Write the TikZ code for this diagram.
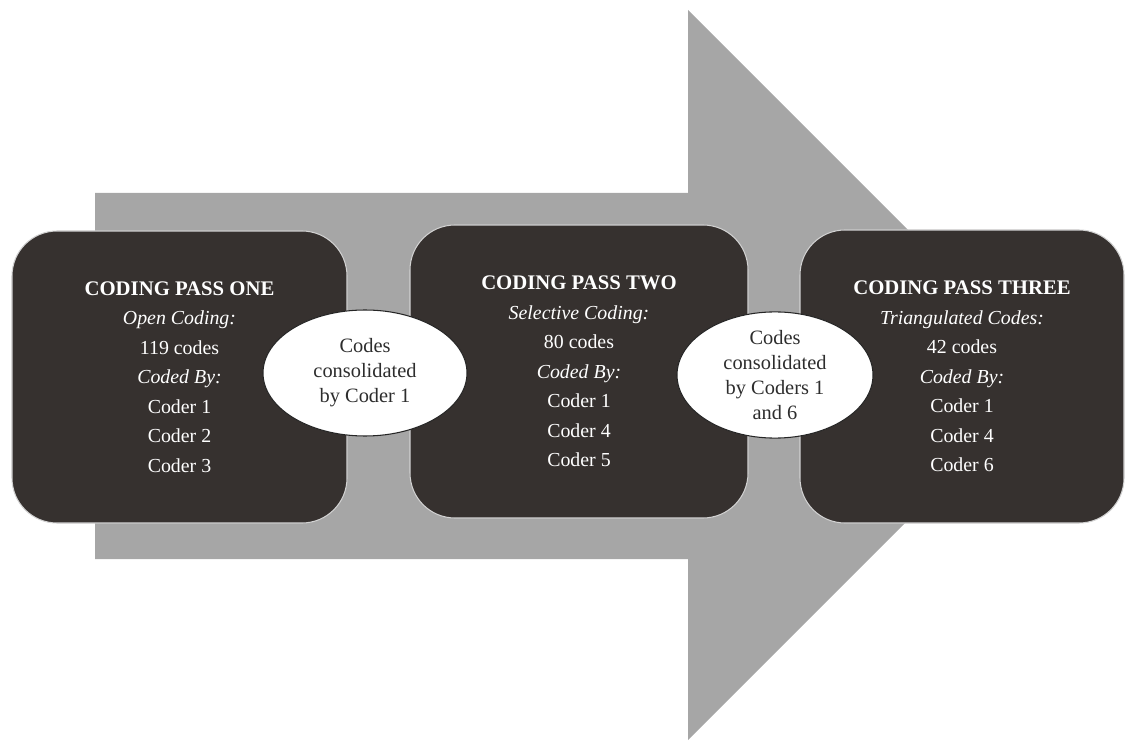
\documentclass[tikz,border=0pt]{standalone}
\usepackage{fontspec}
\setmainfont{Liberation Serif}
\usetikzlibrary{shapes.geometric}

\definecolor{arrowgray}{RGB}{166,166,166}
\definecolor{passdark}{RGB}{54,49,47}
\definecolor{bubbletext}{RGB}{45,45,45}

\newcommand{\passtitle}[1]{{\fontsize{11.8}{16.8}\selectfont\bfseries #1}}

\tikzset{
  passbox/.style={fill=passdark, draw=gray!35, line width=0.6pt,
    rounded corners=0.9cm, inner sep=0pt, align=center, text=white,
    font=\fontsize{11.3}{16.8}\selectfont},
  bubble/.style={ellipse, fill=white, draw=black!85, line width=0.6pt,
    inner sep=0pt, align=center, text=bubbletext,
    font=\fontsize{11.6}{14.2}\selectfont}
}

\begin{document}
\begin{tikzpicture}
        \useasboundingbox (0,0) rectangle (22.54,14.8);
        % big arrow behind
        \fill[arrowgray] (1.9,3.62) -- (1.9,10.94) -- (13.76,10.94) -- (13.76,14.6)
            -- (21.06,7.3) -- (13.76,0) -- (13.76,3.62) -- cycle;
        % the three passes
        \node [passbox, minimum width=6.7cm, minimum height=5.84cm] (one) at (3.59,7.26)
            {\passtitle{CODING PASS ONE}\\ \textit{Open Coding:}\\ 119 codes\\
             \textit{Coded By:}\\ Coder 1\\ Coder 2\\ Coder 3};
        \node [passbox, minimum width=6.76cm, minimum height=5.86cm] (two) at (11.58,7.37)
            {\passtitle{CODING PASS TWO}\\ \textit{Selective Coding:}\\ 80 codes\\
             \textit{Coded By:}\\ Coder 1\\ Coder 4\\ Coder 5};
        \node [passbox, minimum width=6.48cm, minimum height=5.86cm] (three) at (19.24,7.27)
            {\passtitle{CODING PASS THREE}\\ \textit{Triangulated Codes:}\\ 42 codes\\
             \textit{Coded By:}\\ Coder 1\\ Coder 4\\ Coder 6};
        % consolidation steps
        \node [bubble, minimum width=4.08cm, minimum height=2.52cm] (merge one) at (7.3,7.34)
            {Codes\\ consolidated\\ by Coder 1};
        \node [bubble, minimum width=3.92cm, minimum height=2.44cm] (merge two) at (15.5,7.3)
            {Codes\\ consolidated\\ by Coders 1\\ and 6};
    \end{tikzpicture}
\end{document}
